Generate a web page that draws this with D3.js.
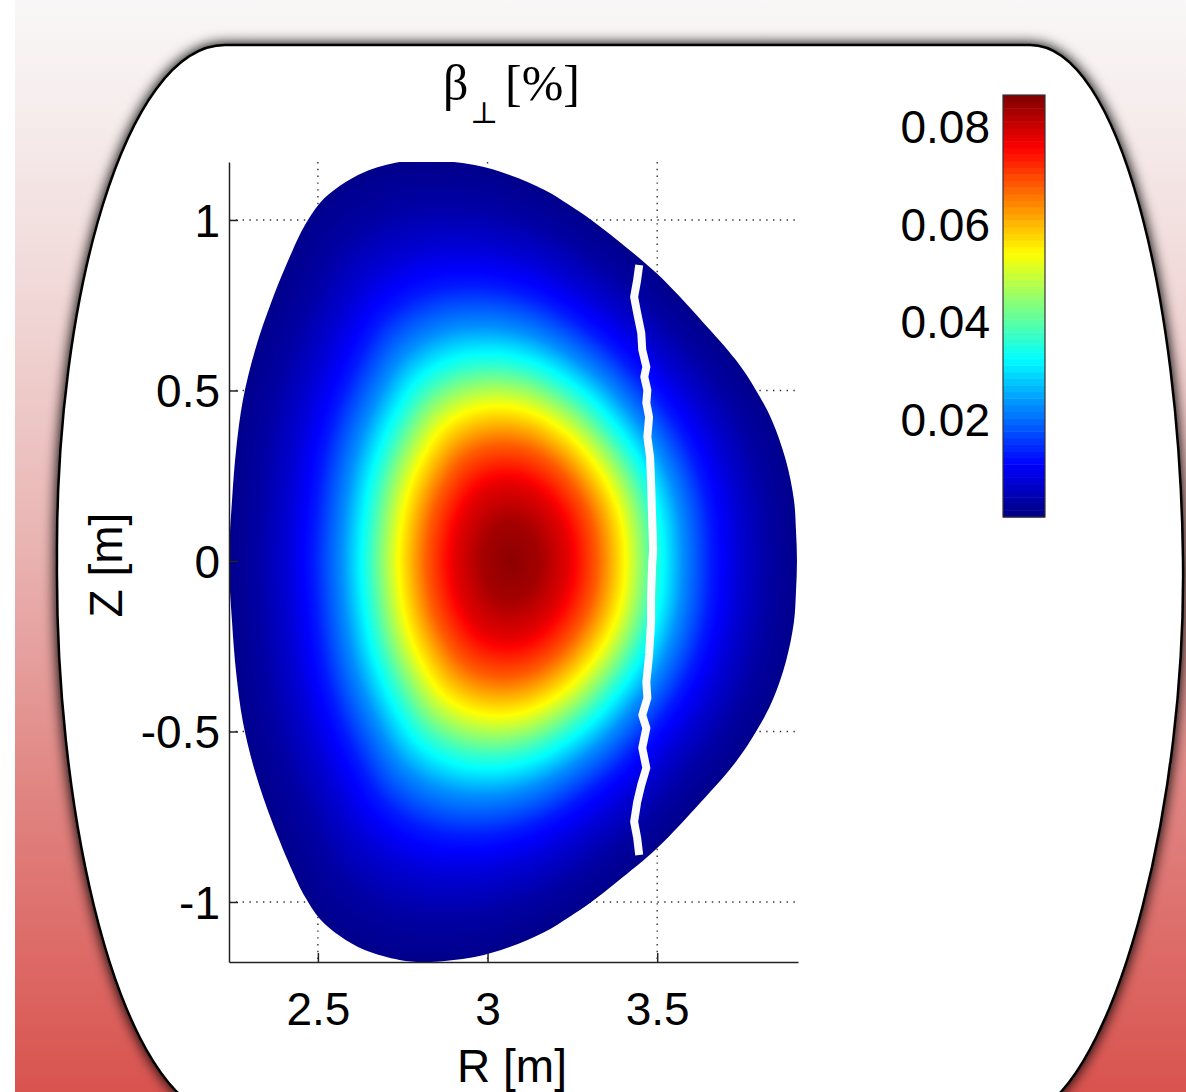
<!DOCTYPE html>
<html>
<head>
<meta charset="utf-8">
<script src="https://cdn.jsdelivr.net/npm/d3@7"></script>
<style>
  body { margin: 0; background: #fff; }
  svg { display: block; }
</style>
</head>
<body>
<svg id="chart" width="1186" height="1092"></svg>
<script>
// tick values
var rTicks = [2.5, 3, 3.5];
var zTicks = [-1, -0.5, 0, 0.5, 1];
var cbTicks = [0.02, 0.04, 0.06, 0.08];

// plasma boundary (R, Z in m), clockwise from the top
var boundaryR = [2.815, 2.962, 3.065, 3.168, 3.241, 3.306, 3.382, 3.500, 3.629, 3.732, 3.791, 3.838, 3.879, 3.903, 3.909, 3.912,
                 3.909, 3.903, 3.879, 3.838, 3.791, 3.732, 3.629, 3.500, 3.382, 3.306, 3.241, 3.168, 3.065, 2.962, 2.815,
                 2.741, 2.638, 2.565, 2.506, 2.462, 2.426, 2.365, 2.315, 2.279, 2.259, 2.247, 2.238,
                 2.247, 2.259, 2.279, 2.315, 2.365, 2.426, 2.462, 2.506, 2.565, 2.638, 2.741];
var boundaryZ = [1.176, 1.161, 1.132, 1.088, 1.044, 1.000, 0.941, 0.842, 0.707, 0.589, 0.501, 0.413, 0.296, 0.179, 0.091, 0.000,
                 -0.091, -0.179, -0.296, -0.413, -0.501, -0.589, -0.707, -0.842, -0.941, -1.000, -1.044, -1.088, -1.132, -1.161, -1.176,
                 -1.170, -1.141, -1.100, -1.050, -0.985, -0.912, -0.765, -0.619, -0.472, -0.326, -0.179, 0.000,
                 0.179, 0.326, 0.472, 0.619, 0.765, 0.912, 0.985, 1.050, 1.100, 1.141, 1.170];

// magnetic axis
var axisR = 3.07, axisZ = 0.0;

// beta_perp [%] against normalised minor radius
var profileRho  = [0, 0.1, 0.2, 0.3, 0.4, 0.5, 0.6, 0.7, 0.8, 0.9, 1.0];
var profileBeta = [0.0855, 0.0835, 0.078, 0.068, 0.054, 0.037, 0.023, 0.013, 0.007, 0.003, 0.001];

// white line (R, Z)
var lineR = [3.447, 3.441, 3.432, 3.441, 3.453, 3.456, 3.468, 3.462, 3.471, 3.468, 3.476, 3.471, 3.479, 3.482, 3.485, 3.488,
             3.485, 3.482, 3.482, 3.476, 3.468, 3.471, 3.456, 3.468, 3.456, 3.468, 3.453, 3.441, 3.432, 3.441, 3.447];
var lineZ = [0.868, 0.824, 0.774, 0.727, 0.669, 0.619, 0.569, 0.540, 0.501, 0.463, 0.422, 0.364, 0.305, 0.229, 0.129, 0.032,
             -0.012, -0.100, -0.179, -0.276, -0.355, -0.402, -0.452, -0.490, -0.548, -0.607, -0.657, -0.707, -0.765, -0.812, -0.862];

var cbMax = 0.0866;

var svg = d3.select("#chart");
var W = 1186, H = 1092;
var defs = svg.append("defs");

// jet colormap
function jet(t) {
    t = Math.max(0, Math.min(1, t));
    function c(v) { return Math.max(0, Math.min(1, v)); }
    return [c(1.5 - Math.abs(4 * t - 3)), c(1.5 - Math.abs(4 * t - 2)), c(1.5 - Math.abs(4 * t - 1))];
}

// ---- background ----
var bg = defs.append("linearGradient").attr("id", "bgGrad")
    .attr("x1", 0).attr("y1", 0).attr("x2", 0).attr("y2", 1);
[[0, "#f9f7f7"], [0.1, "#f6eded"], [0.28, "#f0d7d6"], [0.5, "#e9b4b2"], [0.73, "#e08481"], [1, "#d9534f"]]
    .forEach(function(s) { bg.append("stop").attr("offset", s[0]).attr("stop-color", s[1]); });
svg.append("rect").attr("x", 15).attr("y", 0).attr("width", W - 15).attr("height", H)
    .attr("fill", "url(#bgGrad)");

var shadow = defs.append("filter").attr("id", "shadow")
    .attr("x", "-10%").attr("y", "-10%").attr("width", "120%").attr("height", "120%");
shadow.append("feGaussianBlur").attr("in", "SourceAlpha").attr("stdDeviation", 7).attr("result", "blur");
shadow.append("feComponentTransfer").attr("in", "blur").attr("result", "sh")
    .append("feFuncA").attr("type", "linear").attr("slope", 1.1);
var merge = shadow.append("feMerge");
merge.append("feMergeNode").attr("in", "sh");
merge.append("feMergeNode").attr("in", "SourceGraphic");

svg.append("path")
    .attr("d", "M225,45 L1030,45 C1120,45 1180,300 1183,560 C1186,800 1120,1060 1040,1110 " +
               "L200,1110 C110,1060 55,800 57,560 C55,300 125,45 225,45 Z")
    .attr("fill", "#fff").attr("stroke", "#000").attr("stroke-width", 2.5)
    .attr("filter", "url(#shadow)");

// ---- scales ----
var x = d3.scaleLinear().domain([2.238, 3.915]).range([229, 798]);
var y = d3.scaleLinear().domain([-1.176, 1.17]).range([962, 162]);
var beta = d3.scaleLinear().domain(profileRho).range(profileBeta).clamp(true);
var cNorm = d3.scaleLinear().domain([0, cbMax]).range([0, 1]);

var x0 = x.range()[0], x1 = x.range()[1], y0 = y.range()[1], y1 = y.range()[0];

// ---- grid ----
var grid = svg.append("g").attr("stroke", "#333").attr("stroke-width", 1.4)
    .attr("stroke-dasharray", "1.4,5.4");
grid.selectAll(".gx").data(rTicks).enter().append("line")
    .attr("x1", function(d) { return x(d); }).attr("x2", function(d) { return x(d); })
    .attr("y1", y0).attr("y2", y1);
grid.selectAll(".gy").data(zTicks).enter().append("line")
    .attr("y1", function(d) { return y(d); }).attr("y2", function(d) { return y(d); })
    .attr("x1", x0).attr("x2", x1);

// ---- plasma field ----
var bpts = boundaryR.map(function(r, i) { return [x(r), y(boundaryZ[i])]; });
var bPath = d3.line().curve(d3.curveCatmullRomClosed.alpha(0.5))(bpts);
defs.append("clipPath").attr("id", "plasmaClip").append("path").attr("d", bPath);

var cx = x(axisR), cy = y(axisZ);
var tmp = svg.append("path").attr("d", bPath).attr("fill", "none");
var node = tmp.node(), L = node.getTotalLength();
var samples = [];
for (var k = 0; k < 3000; k++) {
    var p = node.getPointAtLength(L * k / 3000);
    samples.push([Math.atan2(p.y - cy, p.x - cx), Math.hypot(p.x - cx, p.y - cy)]);
}
tmp.remove();
samples.sort(function(a, b) { return a[0] - b[0]; });
samples.unshift([samples[samples.length - 1][0] - 2 * Math.PI, samples[samples.length - 1][1]]);
samples.push([samples[1][0] + 2 * Math.PI, samples[1][1]]);
var bis = d3.bisector(function(d) { return d[0]; }).left;
function rBound(a) {
    var i = bis(samples, a);
    if (i <= 0) return samples[0][1];
    if (i >= samples.length) return samples[samples.length - 1][1];
    var s0 = samples[i - 1], s1 = samples[i];
    var f = (a - s0[0]) / ((s1[0] - s0[0]) || 1);
    return s0[1] + f * (s1[1] - s0[1]);
}
var NB = 4096, rTab = new Float64Array(NB + 1);
for (var k = 0; k <= NB; k++) rTab[k] = rBound(-Math.PI + 2 * Math.PI * k / NB);
function rb(a) { return rTab[Math.round((a + Math.PI) / (2 * Math.PI) * NB)]; }
var aRight = rb(0), aLeft = rb(Math.PI), bTop = rb(-Math.PI / 2), bBot = rb(Math.PI / 2);

var cw = Math.round(x1 - x0), ch = Math.round(y1 - y0);
var canvas = document.createElement("canvas");
canvas.width = cw; canvas.height = ch;
var ctx = canvas.getContext("2d");
var img = ctx.createImageData(cw, ch);
for (var j = 0; j < ch; j++) {
    for (var i = 0; i < cw; i++) {
        var dx = x0 + i + 0.5 - cx, dy = y0 + j + 0.5 - cy;
        var a = Math.atan2(dy, dx), r = Math.hypot(dx, dy);
        var rB = rb(a);
        if (r > rB + 2) continue;
        var ca = Math.cos(a), sa = Math.sin(a);
        var A = ca >= 0 ? aRight : aLeft, B = sa >= 0 ? bBot : bTop;
        var rE = 1 / Math.sqrt(ca * ca / (A * A) + sa * sa / (B * B));
        var d = rB - rE, rho;
        if (Math.abs(d) < 1e-6) rho = r / rE;
        else rho = (-rE + Math.sqrt(Math.max(0, rE * rE + 4 * d * r))) / (2 * d);
        var col = jet(cNorm(beta(rho)));
        var o = (j * cw + i) * 4;
        img.data[o] = col[0] * 255; img.data[o + 1] = col[1] * 255; img.data[o + 2] = col[2] * 255; img.data[o + 3] = 255;
    }
}
ctx.putImageData(img, 0, 0);
svg.append("image").attr("x", x0).attr("y", y0).attr("width", cw).attr("height", ch)
    .attr("preserveAspectRatio", "none")
    .attr("href", canvas.toDataURL())
    .attr("clip-path", "url(#plasmaClip)");

// white line
svg.append("path")
    .datum(lineR.map(function(r, i) { return [r, lineZ[i]]; }))
    .attr("d", d3.line().x(function(d) { return x(d[0]); }).y(function(d) { return y(d[1]); }))
    .attr("fill", "none").attr("stroke", "#fbfbfb").attr("stroke-width", 8)
    .attr("stroke-linejoin", "round");

// ---- axes ----
var font = "'Liberation Sans', Arial, Helvetica, sans-serif";
var gx = svg.append("g").attr("transform", "translate(0," + y1 + ")")
    .call(d3.axisBottom(x).tickValues(rTicks).tickSize(-9).tickSizeOuter(0).tickPadding(30)
        .tickFormat(function(d) { return d; }));
var gy = svg.append("g").attr("transform", "translate(" + x0 + ",0)")
    .call(d3.axisLeft(y).tickValues(zTicks).tickSize(-9).tickSizeOuter(0).tickPadding(9)
        .tickFormat(function(d) { return d; }));
[gx, gy].forEach(function(g) {
    g.select(".domain").attr("stroke", "#222").attr("stroke-width", 1.5);
    g.selectAll(".tick line").attr("stroke", "#222").attr("stroke-width", 1.5);
    g.selectAll(".tick text").attr("font-family", font).attr("font-size", 46).attr("fill", "#000");
});
gy.selectAll(".tick text").attr("dy", "0.35em");

svg.append("text").attr("x", 512).attr("y", 1082).attr("text-anchor", "middle")
    .attr("font-family", font).attr("font-size", 46).text("R [m]");
svg.append("text").attr("transform", "translate(122,565) rotate(-90)").attr("text-anchor", "middle")
    .attr("font-family", font).attr("font-size", 46).text("Z [m]");

// title
var title = svg.append("text").attr("x", 443).attr("y", 100)
    .attr("font-family", "'Liberation Serif', 'Times New Roman', serif").attr("font-size", 50);
title.append("tspan").text("β");
title.append("tspan").attr("x", 470).attr("dy", 23).attr("font-size", 30)
    .attr("font-family", "'DejaVu Serif', serif").text("⊥");
title.append("tspan").attr("x", 505).attr("dy", -23).text("[%]");

// ---- colorbar ----
var cbX = 1003, cbW = 42;
var cbY = d3.scaleLinear().domain([0, cbMax]).range([517, 95]);
var nLev = 64;
var levels = d3.range(nLev);
svg.append("g").selectAll("rect").data(levels).enter().append("rect")
    .attr("x", cbX).attr("width", cbW)
    .attr("y", function(d) { return cbY(cbMax * (d + 1) / nLev); })
    .attr("height", function(d) { return cbY(cbMax * d / nLev) - cbY(cbMax * (d + 1) / nLev) + 0.5; })
    .attr("fill", function(d) { var c = jet((d + 0.5) / nLev); return d3.rgb(c[0] * 255, c[1] * 255, c[2] * 255); });
svg.append("rect").attr("x", cbX).attr("y", cbY(cbMax)).attr("width", cbW)
    .attr("height", cbY(0) - cbY(cbMax)).attr("fill", "none").attr("stroke", "#333").attr("stroke-width", 1.2);
svg.append("g").selectAll("text").data(cbTicks).enter().append("text")
    .attr("x", 990).attr("y", function(d) { return cbY(d); }).attr("dy", "0.35em")
    .attr("text-anchor", "end").attr("font-family", font).attr("font-size", 46)
    .text(function(d) { return d3.format(".2f")(d); });
</script>
</body>
</html>
